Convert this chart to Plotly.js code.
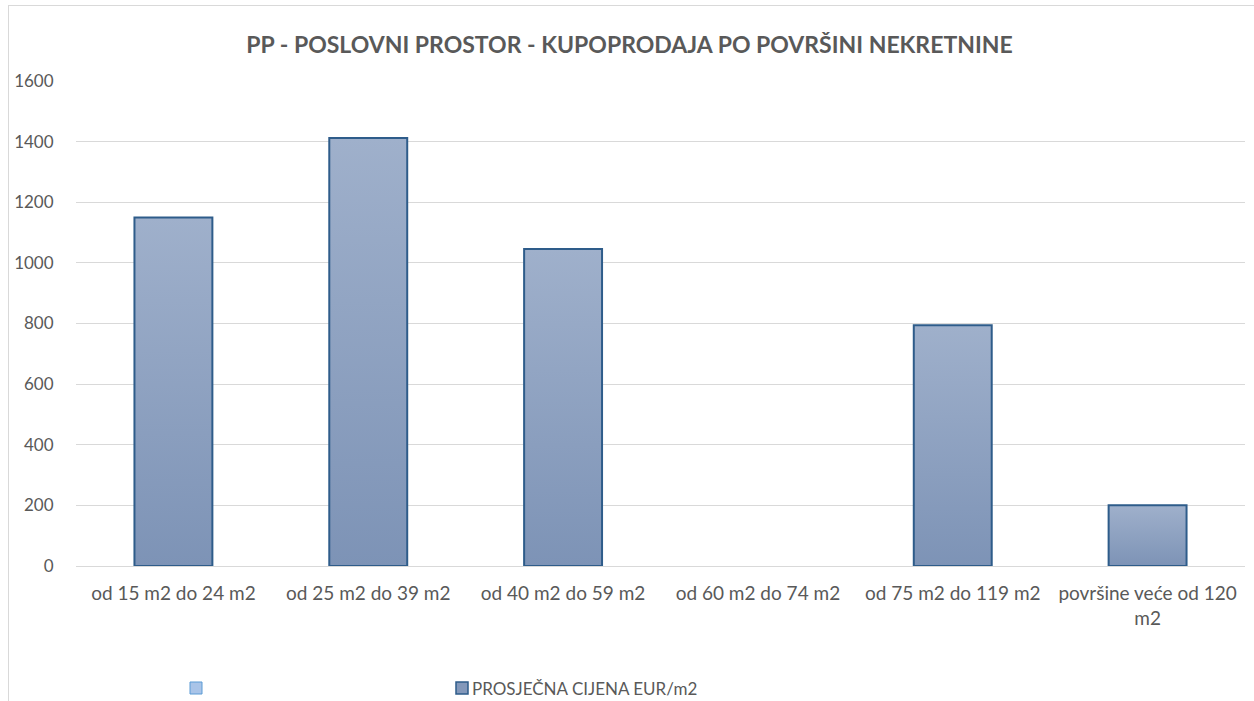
<!DOCTYPE html>
<html>
<head>
<meta charset="utf-8">
<script src="https://cdn.plot.ly/plotly-3.0.1.min.js"></script>
<style>
  html, body { margin: 0; padding: 0; background: #ffffff; overflow: hidden; }
  #frame { position: absolute; left: 8px; top: 5px; width: 1270px; height: 720px; border: 1px solid #d9d9d9; box-sizing: border-box; pointer-events: none; z-index: 2; }
  #chart { position: absolute; left: 0; top: 0; width: 1254px; height: 701px; }
</style>
</head>
<body>
<div id="chart"></div>
<div id="frame"></div>
<script>
const categories = ["od 15 m2 do 24 m2", "od 25 m2 do 39 m2", "od 40 m2 do 59 m2", "od 60 m2 do 74 m2", "od 75 m2 do 119 m2", "površine veće od 120<br>m2"];
const avgPrice = [1150, 1412, 1046, null, 794, 200];
const seriesName = "PROSJEČNA CIJENA EUR/m2";
const yTicks = [0, 200, 400, 600, 800, 1000, 1200, 1400, 1600];

const fontFam = "Lato, 'Liberation Sans', sans-serif";
const textGray = "#595959";

const trace = {
  type: "bar",
  x: categories,
  y: avgPrice,
  name: seriesName,
  marker: { color: "#8c9fbe", line: { color: "#2e5c8a", width: 2 } },
  hoverinfo: "x+y",
  showlegend: false
};

const layout = {
  width: 1254,
  height: 701,
  margin: { l: 76, r: 9, t: 81, b: 135 },
  paper_bgcolor: "#ffffff",
  plot_bgcolor: "#ffffff",
  bargap: 0.6,
  font: { family: fontFam, color: textGray, size: 19 },
  title: {
    text: "<b>PP - POSLOVNI PROSTOR - KUPOPRODAJA PO POVRŠINI NEKRETNINE</b>",
    font: { family: fontFam, size: 23, color: textGray },
    x: 0.502, xanchor: "center",
    y: 1 - 45 / 701, yanchor: "middle", yref: "container"
  },
  xaxis: {
    type: "category",
    showgrid: false,
    showline: false,
    ticks: "outside", ticklen: 10, tickcolor: "rgba(0,0,0,0)",
    tickfont: { family: fontFam, size: 19, color: textGray },
    fixedrange: true
  },
  yaxis: {
    range: [0, 1600],
    tickvals: yTicks,
    ticktext: yTicks.map(String),
    showgrid: true,
    gridcolor: "#d9d9d9",
    gridwidth: 1,
    zeroline: true,
    zerolinecolor: "#d9d9d9",
    zerolinewidth: 1,
    showline: false,
    ticks: "outside", ticklen: 18, tickcolor: "rgba(0,0,0,0)",
    tickfont: { family: fontFam, size: 17, color: textGray },
    fixedrange: true
  },
  shapes: [
    { type: "rect", xref: "paper", yref: "paper", x0: (190 - 76) / 1169, x1: (202 - 76) / 1169, y0: (566 - 694) / 485, y1: (566 - 682) / 485,
      fillcolor: "#a9c4e8", line: { color: "#5b9bd5", width: 1 } },
    { type: "rect", xref: "paper", yref: "paper", x0: (456 - 76) / 1169, x1: (468 - 76) / 1169, y0: (566 - 694) / 485, y1: (566 - 682) / 485,
      fillcolor: "#8398ba", line: { color: "#2e5c8a", width: 1.5 } }
  ],
  annotations: [
    { xref: "paper", yref: "paper", x: (470 - 76) / 1169, y: (566 - 688) / 485, xanchor: "left", yanchor: "middle",
      text: seriesName, showarrow: false, font: { family: fontFam, size: 17, color: textGray } }
  ]
};

Plotly.newPlot("chart", [trace], layout, { displayModeBar: false, staticPlot: true }).then(function (gd) {
  const svg = gd.querySelector(".main-svg");
  const ns = "http://www.w3.org/2000/svg";
  const defs = document.createElementNS(ns, "defs");
  const grad = document.createElementNS(ns, "linearGradient");
  grad.setAttribute("id", "barGrad");
  grad.setAttribute("x1", "0"); grad.setAttribute("y1", "0");
  grad.setAttribute("x2", "0"); grad.setAttribute("y2", "1");
  [["0", "#9fb0cb"], ["1", "#7d93b6"]].forEach(function (s) {
    const st = document.createElementNS(ns, "stop");
    st.setAttribute("offset", s[0]);
    st.setAttribute("stop-color", s[1]);
    grad.appendChild(st);
  });
  defs.appendChild(grad);
  svg.insertBefore(defs, svg.firstChild);
  gd.querySelectorAll(".bars .point path").forEach(function (p) {
    p.style.fill = "url(#barGrad)";
  });
});
</script>
</body>
</html>
